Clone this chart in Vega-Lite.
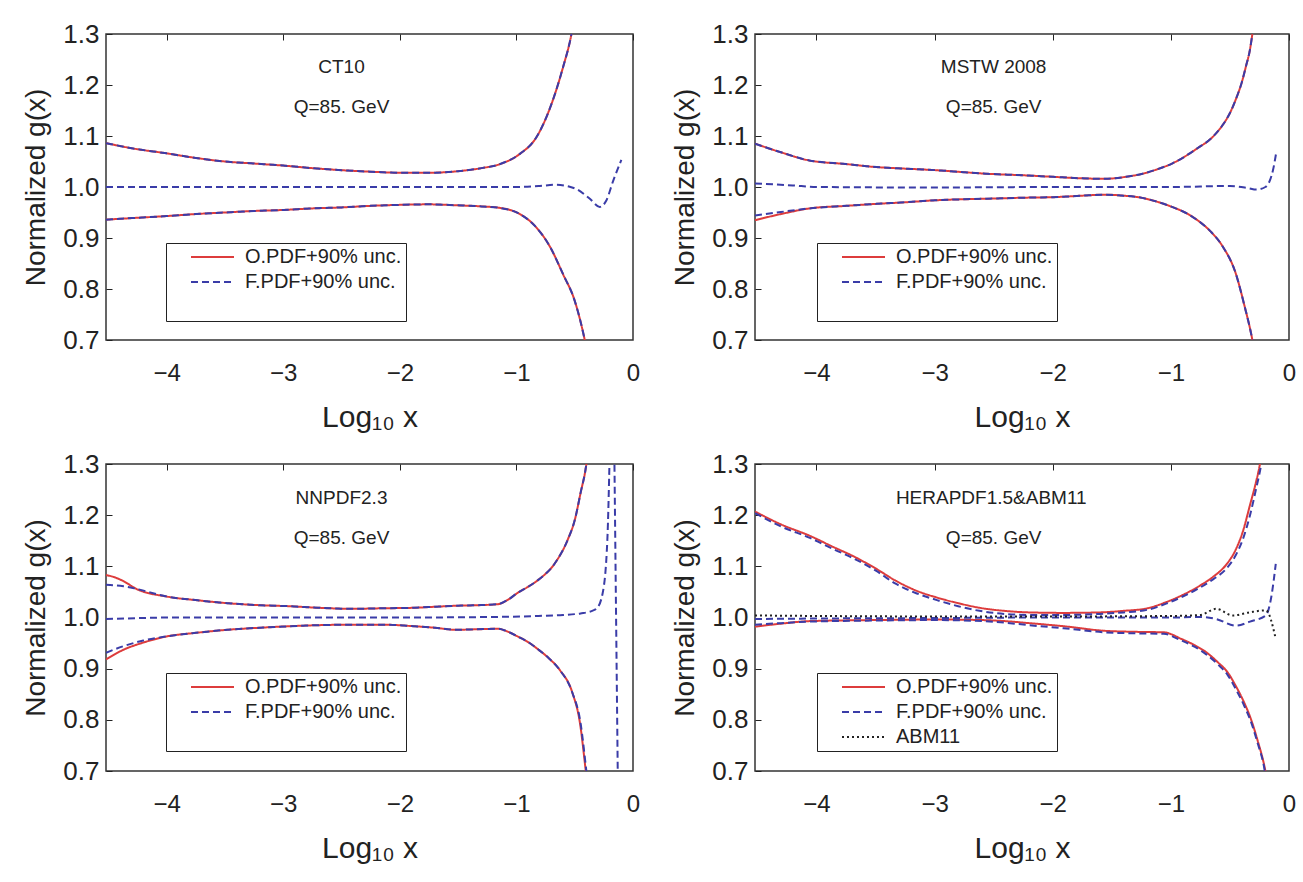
{
"$schema": "https://vega.github.io/schema/vega-lite/v6.json",
"background": "white",
"padding": {"left": 22, "top": 20, "right": 8, "bottom": 5},
"columns": 2,
"spacing": {"row": 17, "column": 30},
"config": {
 "font": "Liberation Sans",
 "view": {"stroke": "#333", "strokeWidth": 1.5},
 "axis": {"domain": false, "ticks": false, "grid": true, "gridColor": "#222", "gridWidth": 1, "gridOpacity": 1, "labelColor": "#222", "titleColor": "#222", "titleFontWeight": "normal", "labelFont": "Liberation Sans", "titleFont": "Liberation Sans"},
 "text": {"font": "Liberation Sans", "fontSize": 19, "color": "#222"},
 "line": {"strokeWidth": 2, "interpolate": "monotone", "clip": true}
},
"resolve": {"scale": {"stroke": "independent", "strokeDash": "independent"}},
"datasets": {"curves": [
{"panel":"CT10","series":"O.PDF+90% unc.","curve":"up","x":-4.52,"y":1.086},
{"panel":"CT10","series":"O.PDF+90% unc.","curve":"up","x":-4.3,"y":1.076},
{"panel":"CT10","series":"O.PDF+90% unc.","curve":"up","x":-4.0,"y":1.066},
{"panel":"CT10","series":"O.PDF+90% unc.","curve":"up","x":-3.75,"y":1.057},
{"panel":"CT10","series":"O.PDF+90% unc.","curve":"up","x":-3.5,"y":1.050},
{"panel":"CT10","series":"O.PDF+90% unc.","curve":"up","x":-3.25,"y":1.046},
{"panel":"CT10","series":"O.PDF+90% unc.","curve":"up","x":-3.0,"y":1.042},
{"panel":"CT10","series":"O.PDF+90% unc.","curve":"up","x":-2.75,"y":1.037},
{"panel":"CT10","series":"O.PDF+90% unc.","curve":"up","x":-2.5,"y":1.033},
{"panel":"CT10","series":"O.PDF+90% unc.","curve":"up","x":-2.25,"y":1.030},
{"panel":"CT10","series":"O.PDF+90% unc.","curve":"up","x":-2.0,"y":1.028},
{"panel":"CT10","series":"O.PDF+90% unc.","curve":"up","x":-1.75,"y":1.028},
{"panel":"CT10","series":"O.PDF+90% unc.","curve":"up","x":-1.5,"y":1.031},
{"panel":"CT10","series":"O.PDF+90% unc.","curve":"up","x":-1.3,"y":1.037},
{"panel":"CT10","series":"O.PDF+90% unc.","curve":"up","x":-1.14,"y":1.045},
{"panel":"CT10","series":"O.PDF+90% unc.","curve":"up","x":-0.97,"y":1.065},
{"panel":"CT10","series":"O.PDF+90% unc.","curve":"up","x":-0.83,"y":1.097},
{"panel":"CT10","series":"O.PDF+90% unc.","curve":"up","x":-0.71,"y":1.156},
{"panel":"CT10","series":"O.PDF+90% unc.","curve":"up","x":-0.6,"y":1.235},
{"panel":"CT10","series":"O.PDF+90% unc.","curve":"up","x":-0.528,"y":1.3},
{"panel":"CT10","series":"O.PDF+90% unc.","curve":"up","x":-0.48,"y":1.37},
{"panel":"CT10","series":"F.PDF+90% unc.","curve":"up","x":-4.52,"y":1.086},
{"panel":"CT10","series":"F.PDF+90% unc.","curve":"up","x":-4.3,"y":1.076},
{"panel":"CT10","series":"F.PDF+90% unc.","curve":"up","x":-4.0,"y":1.066},
{"panel":"CT10","series":"F.PDF+90% unc.","curve":"up","x":-3.75,"y":1.057},
{"panel":"CT10","series":"F.PDF+90% unc.","curve":"up","x":-3.5,"y":1.050},
{"panel":"CT10","series":"F.PDF+90% unc.","curve":"up","x":-3.25,"y":1.046},
{"panel":"CT10","series":"F.PDF+90% unc.","curve":"up","x":-3.0,"y":1.042},
{"panel":"CT10","series":"F.PDF+90% unc.","curve":"up","x":-2.75,"y":1.037},
{"panel":"CT10","series":"F.PDF+90% unc.","curve":"up","x":-2.5,"y":1.033},
{"panel":"CT10","series":"F.PDF+90% unc.","curve":"up","x":-2.25,"y":1.030},
{"panel":"CT10","series":"F.PDF+90% unc.","curve":"up","x":-2.0,"y":1.028},
{"panel":"CT10","series":"F.PDF+90% unc.","curve":"up","x":-1.75,"y":1.028},
{"panel":"CT10","series":"F.PDF+90% unc.","curve":"up","x":-1.5,"y":1.031},
{"panel":"CT10","series":"F.PDF+90% unc.","curve":"up","x":-1.3,"y":1.037},
{"panel":"CT10","series":"F.PDF+90% unc.","curve":"up","x":-1.14,"y":1.045},
{"panel":"CT10","series":"F.PDF+90% unc.","curve":"up","x":-0.97,"y":1.065},
{"panel":"CT10","series":"F.PDF+90% unc.","curve":"up","x":-0.83,"y":1.097},
{"panel":"CT10","series":"F.PDF+90% unc.","curve":"up","x":-0.71,"y":1.156},
{"panel":"CT10","series":"F.PDF+90% unc.","curve":"up","x":-0.6,"y":1.235},
{"panel":"CT10","series":"F.PDF+90% unc.","curve":"up","x":-0.528,"y":1.3},
{"panel":"CT10","series":"F.PDF+90% unc.","curve":"up","x":-0.48,"y":1.37},
{"panel":"CT10","series":"O.PDF+90% unc.","curve":"lo","x":-4.52,"y":0.936},
{"panel":"CT10","series":"O.PDF+90% unc.","curve":"lo","x":-4.3,"y":0.939},
{"panel":"CT10","series":"O.PDF+90% unc.","curve":"lo","x":-4.0,"y":0.943},
{"panel":"CT10","series":"O.PDF+90% unc.","curve":"lo","x":-3.75,"y":0.947},
{"panel":"CT10","series":"O.PDF+90% unc.","curve":"lo","x":-3.5,"y":0.950},
{"panel":"CT10","series":"O.PDF+90% unc.","curve":"lo","x":-3.25,"y":0.953},
{"panel":"CT10","series":"O.PDF+90% unc.","curve":"lo","x":-3.0,"y":0.955},
{"panel":"CT10","series":"O.PDF+90% unc.","curve":"lo","x":-2.75,"y":0.958},
{"panel":"CT10","series":"O.PDF+90% unc.","curve":"lo","x":-2.5,"y":0.960},
{"panel":"CT10","series":"O.PDF+90% unc.","curve":"lo","x":-2.25,"y":0.963},
{"panel":"CT10","series":"O.PDF+90% unc.","curve":"lo","x":-2.0,"y":0.965},
{"panel":"CT10","series":"O.PDF+90% unc.","curve":"lo","x":-1.75,"y":0.966},
{"panel":"CT10","series":"O.PDF+90% unc.","curve":"lo","x":-1.5,"y":0.964},
{"panel":"CT10","series":"O.PDF+90% unc.","curve":"lo","x":-1.3,"y":0.962},
{"panel":"CT10","series":"O.PDF+90% unc.","curve":"lo","x":-1.14,"y":0.959},
{"panel":"CT10","series":"O.PDF+90% unc.","curve":"lo","x":-0.97,"y":0.947},
{"panel":"CT10","series":"O.PDF+90% unc.","curve":"lo","x":-0.83,"y":0.921},
{"panel":"CT10","series":"O.PDF+90% unc.","curve":"lo","x":-0.71,"y":0.882},
{"panel":"CT10","series":"O.PDF+90% unc.","curve":"lo","x":-0.6,"y":0.829},
{"panel":"CT10","series":"O.PDF+90% unc.","curve":"lo","x":-0.5,"y":0.777},
{"panel":"CT10","series":"O.PDF+90% unc.","curve":"lo","x":-0.414,"y":0.7},
{"panel":"CT10","series":"O.PDF+90% unc.","curve":"lo","x":-0.38,"y":0.66},
{"panel":"CT10","series":"F.PDF+90% unc.","curve":"lo","x":-4.52,"y":0.936},
{"panel":"CT10","series":"F.PDF+90% unc.","curve":"lo","x":-4.3,"y":0.939},
{"panel":"CT10","series":"F.PDF+90% unc.","curve":"lo","x":-4.0,"y":0.943},
{"panel":"CT10","series":"F.PDF+90% unc.","curve":"lo","x":-3.75,"y":0.947},
{"panel":"CT10","series":"F.PDF+90% unc.","curve":"lo","x":-3.5,"y":0.950},
{"panel":"CT10","series":"F.PDF+90% unc.","curve":"lo","x":-3.25,"y":0.953},
{"panel":"CT10","series":"F.PDF+90% unc.","curve":"lo","x":-3.0,"y":0.955},
{"panel":"CT10","series":"F.PDF+90% unc.","curve":"lo","x":-2.75,"y":0.958},
{"panel":"CT10","series":"F.PDF+90% unc.","curve":"lo","x":-2.5,"y":0.960},
{"panel":"CT10","series":"F.PDF+90% unc.","curve":"lo","x":-2.25,"y":0.963},
{"panel":"CT10","series":"F.PDF+90% unc.","curve":"lo","x":-2.0,"y":0.965},
{"panel":"CT10","series":"F.PDF+90% unc.","curve":"lo","x":-1.75,"y":0.966},
{"panel":"CT10","series":"F.PDF+90% unc.","curve":"lo","x":-1.5,"y":0.964},
{"panel":"CT10","series":"F.PDF+90% unc.","curve":"lo","x":-1.3,"y":0.962},
{"panel":"CT10","series":"F.PDF+90% unc.","curve":"lo","x":-1.14,"y":0.959},
{"panel":"CT10","series":"F.PDF+90% unc.","curve":"lo","x":-0.97,"y":0.947},
{"panel":"CT10","series":"F.PDF+90% unc.","curve":"lo","x":-0.83,"y":0.921},
{"panel":"CT10","series":"F.PDF+90% unc.","curve":"lo","x":-0.71,"y":0.882},
{"panel":"CT10","series":"F.PDF+90% unc.","curve":"lo","x":-0.6,"y":0.829},
{"panel":"CT10","series":"F.PDF+90% unc.","curve":"lo","x":-0.5,"y":0.777},
{"panel":"CT10","series":"F.PDF+90% unc.","curve":"lo","x":-0.414,"y":0.7},
{"panel":"CT10","series":"F.PDF+90% unc.","curve":"lo","x":-0.38,"y":0.66},
{"panel":"CT10","series":"F.PDF+90% unc.","curve":"c","x":-4.52,"y":1.0},
{"panel":"CT10","series":"F.PDF+90% unc.","curve":"c","x":-3.0,"y":1.0},
{"panel":"CT10","series":"F.PDF+90% unc.","curve":"c","x":-2.0,"y":1.0},
{"panel":"CT10","series":"F.PDF+90% unc.","curve":"c","x":-1.0,"y":1.0},
{"panel":"CT10","series":"F.PDF+90% unc.","curve":"c","x":-0.8,"y":1.002},
{"panel":"CT10","series":"F.PDF+90% unc.","curve":"c","x":-0.66,"y":1.0045},
{"panel":"CT10","series":"F.PDF+90% unc.","curve":"c","x":-0.55,"y":1.001},
{"panel":"CT10","series":"F.PDF+90% unc.","curve":"c","x":-0.485,"y":0.996},
{"panel":"CT10","series":"F.PDF+90% unc.","curve":"c","x":-0.37,"y":0.977},
{"panel":"CT10","series":"F.PDF+90% unc.","curve":"c","x":-0.285,"y":0.961},
{"panel":"CT10","series":"F.PDF+90% unc.","curve":"c","x":-0.23,"y":0.973},
{"panel":"CT10","series":"F.PDF+90% unc.","curve":"c","x":-0.17,"y":1.012},
{"panel":"CT10","series":"F.PDF+90% unc.","curve":"c","x":-0.1,"y":1.053},

{"panel":"MSTW","series":"O.PDF+90% unc.","curve":"up","x":-4.52,"y":1.085},
{"panel":"MSTW","series":"O.PDF+90% unc.","curve":"up","x":-4.3,"y":1.068},
{"panel":"MSTW","series":"O.PDF+90% unc.","curve":"up","x":-4.06,"y":1.052},
{"panel":"MSTW","series":"O.PDF+90% unc.","curve":"up","x":-3.75,"y":1.045},
{"panel":"MSTW","series":"O.PDF+90% unc.","curve":"up","x":-3.49,"y":1.039},
{"panel":"MSTW","series":"O.PDF+90% unc.","curve":"up","x":-3.25,"y":1.036},
{"panel":"MSTW","series":"O.PDF+90% unc.","curve":"up","x":-2.99,"y":1.033},
{"panel":"MSTW","series":"O.PDF+90% unc.","curve":"up","x":-2.75,"y":1.029},
{"panel":"MSTW","series":"O.PDF+90% unc.","curve":"up","x":-2.56,"y":1.026},
{"panel":"MSTW","series":"O.PDF+90% unc.","curve":"up","x":-2.25,"y":1.023},
{"panel":"MSTW","series":"O.PDF+90% unc.","curve":"up","x":-2.0,"y":1.020},
{"panel":"MSTW","series":"O.PDF+90% unc.","curve":"up","x":-1.75,"y":1.017},
{"panel":"MSTW","series":"O.PDF+90% unc.","curve":"up","x":-1.56,"y":1.016},
{"panel":"MSTW","series":"O.PDF+90% unc.","curve":"up","x":-1.38,"y":1.020},
{"panel":"MSTW","series":"O.PDF+90% unc.","curve":"up","x":-1.24,"y":1.026},
{"panel":"MSTW","series":"O.PDF+90% unc.","curve":"up","x":-1.1,"y":1.036},
{"panel":"MSTW","series":"O.PDF+90% unc.","curve":"up","x":-0.99,"y":1.046},
{"panel":"MSTW","series":"O.PDF+90% unc.","curve":"up","x":-0.88,"y":1.060},
{"panel":"MSTW","series":"O.PDF+90% unc.","curve":"up","x":-0.775,"y":1.076},
{"panel":"MSTW","series":"O.PDF+90% unc.","curve":"up","x":-0.66,"y":1.095},
{"panel":"MSTW","series":"O.PDF+90% unc.","curve":"up","x":-0.56,"y":1.122},
{"panel":"MSTW","series":"O.PDF+90% unc.","curve":"up","x":-0.5,"y":1.145},
{"panel":"MSTW","series":"O.PDF+90% unc.","curve":"up","x":-0.45,"y":1.172},
{"panel":"MSTW","series":"O.PDF+90% unc.","curve":"up","x":-0.4,"y":1.205},
{"panel":"MSTW","series":"O.PDF+90% unc.","curve":"up","x":-0.364,"y":1.237},
{"panel":"MSTW","series":"O.PDF+90% unc.","curve":"up","x":-0.33,"y":1.27},
{"panel":"MSTW","series":"O.PDF+90% unc.","curve":"up","x":-0.31,"y":1.3},
{"panel":"MSTW","series":"O.PDF+90% unc.","curve":"up","x":-0.28,"y":1.35},
{"panel":"MSTW","series":"F.PDF+90% unc.","curve":"up","x":-4.52,"y":1.085},
{"panel":"MSTW","series":"F.PDF+90% unc.","curve":"up","x":-4.3,"y":1.068},
{"panel":"MSTW","series":"F.PDF+90% unc.","curve":"up","x":-4.06,"y":1.052},
{"panel":"MSTW","series":"F.PDF+90% unc.","curve":"up","x":-3.75,"y":1.045},
{"panel":"MSTW","series":"F.PDF+90% unc.","curve":"up","x":-3.49,"y":1.039},
{"panel":"MSTW","series":"F.PDF+90% unc.","curve":"up","x":-3.25,"y":1.036},
{"panel":"MSTW","series":"F.PDF+90% unc.","curve":"up","x":-2.99,"y":1.033},
{"panel":"MSTW","series":"F.PDF+90% unc.","curve":"up","x":-2.75,"y":1.029},
{"panel":"MSTW","series":"F.PDF+90% unc.","curve":"up","x":-2.56,"y":1.026},
{"panel":"MSTW","series":"F.PDF+90% unc.","curve":"up","x":-2.25,"y":1.023},
{"panel":"MSTW","series":"F.PDF+90% unc.","curve":"up","x":-2.0,"y":1.020},
{"panel":"MSTW","series":"F.PDF+90% unc.","curve":"up","x":-1.75,"y":1.017},
{"panel":"MSTW","series":"F.PDF+90% unc.","curve":"up","x":-1.56,"y":1.016},
{"panel":"MSTW","series":"F.PDF+90% unc.","curve":"up","x":-1.38,"y":1.020},
{"panel":"MSTW","series":"F.PDF+90% unc.","curve":"up","x":-1.24,"y":1.026},
{"panel":"MSTW","series":"F.PDF+90% unc.","curve":"up","x":-1.1,"y":1.036},
{"panel":"MSTW","series":"F.PDF+90% unc.","curve":"up","x":-0.99,"y":1.046},
{"panel":"MSTW","series":"F.PDF+90% unc.","curve":"up","x":-0.88,"y":1.060},
{"panel":"MSTW","series":"F.PDF+90% unc.","curve":"up","x":-0.775,"y":1.076},
{"panel":"MSTW","series":"F.PDF+90% unc.","curve":"up","x":-0.66,"y":1.095},
{"panel":"MSTW","series":"F.PDF+90% unc.","curve":"up","x":-0.56,"y":1.122},
{"panel":"MSTW","series":"F.PDF+90% unc.","curve":"up","x":-0.5,"y":1.145},
{"panel":"MSTW","series":"F.PDF+90% unc.","curve":"up","x":-0.45,"y":1.172},
{"panel":"MSTW","series":"F.PDF+90% unc.","curve":"up","x":-0.4,"y":1.205},
{"panel":"MSTW","series":"F.PDF+90% unc.","curve":"up","x":-0.364,"y":1.237},
{"panel":"MSTW","series":"F.PDF+90% unc.","curve":"up","x":-0.33,"y":1.27},
{"panel":"MSTW","series":"F.PDF+90% unc.","curve":"up","x":-0.31,"y":1.3},
{"panel":"MSTW","series":"F.PDF+90% unc.","curve":"up","x":-0.28,"y":1.35},
{"panel":"MSTW","series":"O.PDF+90% unc.","curve":"lo","x":-4.52,"y":0.935},
{"panel":"MSTW","series":"O.PDF+90% unc.","curve":"lo","x":-4.3,"y":0.947},
{"panel":"MSTW","series":"O.PDF+90% unc.","curve":"lo","x":-4.06,"y":0.958},
{"panel":"MSTW","series":"O.PDF+90% unc.","curve":"lo","x":-3.75,"y":0.963},
{"panel":"MSTW","series":"O.PDF+90% unc.","curve":"lo","x":-3.49,"y":0.967},
{"panel":"MSTW","series":"O.PDF+90% unc.","curve":"lo","x":-3.25,"y":0.970},
{"panel":"MSTW","series":"O.PDF+90% unc.","curve":"lo","x":-2.99,"y":0.974},
{"panel":"MSTW","series":"O.PDF+90% unc.","curve":"lo","x":-2.75,"y":0.976},
{"panel":"MSTW","series":"O.PDF+90% unc.","curve":"lo","x":-2.56,"y":0.977},
{"panel":"MSTW","series":"O.PDF+90% unc.","curve":"lo","x":-2.25,"y":0.979},
{"panel":"MSTW","series":"O.PDF+90% unc.","curve":"lo","x":-2.0,"y":0.980},
{"panel":"MSTW","series":"O.PDF+90% unc.","curve":"lo","x":-1.75,"y":0.983},
{"panel":"MSTW","series":"O.PDF+90% unc.","curve":"lo","x":-1.56,"y":0.985},
{"panel":"MSTW","series":"O.PDF+90% unc.","curve":"lo","x":-1.4,"y":0.983},
{"panel":"MSTW","series":"O.PDF+90% unc.","curve":"lo","x":-1.275,"y":0.980},
{"panel":"MSTW","series":"O.PDF+90% unc.","curve":"lo","x":-1.1,"y":0.970},
{"panel":"MSTW","series":"O.PDF+90% unc.","curve":"lo","x":-0.99,"y":0.961},
{"panel":"MSTW","series":"O.PDF+90% unc.","curve":"lo","x":-0.88,"y":0.950},
{"panel":"MSTW","series":"O.PDF+90% unc.","curve":"lo","x":-0.775,"y":0.935},
{"panel":"MSTW","series":"O.PDF+90% unc.","curve":"lo","x":-0.66,"y":0.912},
{"panel":"MSTW","series":"O.PDF+90% unc.","curve":"lo","x":-0.56,"y":0.883},
{"panel":"MSTW","series":"O.PDF+90% unc.","curve":"lo","x":-0.45,"y":0.830},
{"panel":"MSTW","series":"O.PDF+90% unc.","curve":"lo","x":-0.38,"y":0.77},
{"panel":"MSTW","series":"O.PDF+90% unc.","curve":"lo","x":-0.31,"y":0.7},
{"panel":"MSTW","series":"O.PDF+90% unc.","curve":"lo","x":-0.28,"y":0.66},
{"panel":"MSTW","series":"F.PDF+90% unc.","curve":"lo","x":-4.52,"y":0.944},
{"panel":"MSTW","series":"F.PDF+90% unc.","curve":"lo","x":-4.3,"y":0.951},
{"panel":"MSTW","series":"F.PDF+90% unc.","curve":"lo","x":-4.06,"y":0.958},
{"panel":"MSTW","series":"F.PDF+90% unc.","curve":"lo","x":-3.75,"y":0.963},
{"panel":"MSTW","series":"F.PDF+90% unc.","curve":"lo","x":-3.49,"y":0.967},
{"panel":"MSTW","series":"F.PDF+90% unc.","curve":"lo","x":-3.25,"y":0.970},
{"panel":"MSTW","series":"F.PDF+90% unc.","curve":"lo","x":-2.99,"y":0.974},
{"panel":"MSTW","series":"F.PDF+90% unc.","curve":"lo","x":-2.75,"y":0.976},
{"panel":"MSTW","series":"F.PDF+90% unc.","curve":"lo","x":-2.56,"y":0.977},
{"panel":"MSTW","series":"F.PDF+90% unc.","curve":"lo","x":-2.25,"y":0.979},
{"panel":"MSTW","series":"F.PDF+90% unc.","curve":"lo","x":-2.0,"y":0.980},
{"panel":"MSTW","series":"F.PDF+90% unc.","curve":"lo","x":-1.75,"y":0.983},
{"panel":"MSTW","series":"F.PDF+90% unc.","curve":"lo","x":-1.56,"y":0.985},
{"panel":"MSTW","series":"F.PDF+90% unc.","curve":"lo","x":-1.4,"y":0.983},
{"panel":"MSTW","series":"F.PDF+90% unc.","curve":"lo","x":-1.275,"y":0.980},
{"panel":"MSTW","series":"F.PDF+90% unc.","curve":"lo","x":-1.1,"y":0.970},
{"panel":"MSTW","series":"F.PDF+90% unc.","curve":"lo","x":-0.99,"y":0.961},
{"panel":"MSTW","series":"F.PDF+90% unc.","curve":"lo","x":-0.88,"y":0.950},
{"panel":"MSTW","series":"F.PDF+90% unc.","curve":"lo","x":-0.775,"y":0.935},
{"panel":"MSTW","series":"F.PDF+90% unc.","curve":"lo","x":-0.66,"y":0.912},
{"panel":"MSTW","series":"F.PDF+90% unc.","curve":"lo","x":-0.56,"y":0.883},
{"panel":"MSTW","series":"F.PDF+90% unc.","curve":"lo","x":-0.45,"y":0.830},
{"panel":"MSTW","series":"F.PDF+90% unc.","curve":"lo","x":-0.38,"y":0.77},
{"panel":"MSTW","series":"F.PDF+90% unc.","curve":"lo","x":-0.31,"y":0.7},
{"panel":"MSTW","series":"F.PDF+90% unc.","curve":"lo","x":-0.28,"y":0.66},
{"panel":"MSTW","series":"F.PDF+90% unc.","curve":"c","x":-4.52,"y":1.007},
{"panel":"MSTW","series":"F.PDF+90% unc.","curve":"c","x":-4.2,"y":1.003},
{"panel":"MSTW","series":"F.PDF+90% unc.","curve":"c","x":-4.0,"y":1.0},
{"panel":"MSTW","series":"F.PDF+90% unc.","curve":"c","x":-3.0,"y":0.999},
{"panel":"MSTW","series":"F.PDF+90% unc.","curve":"c","x":-2.0,"y":1.0},
{"panel":"MSTW","series":"F.PDF+90% unc.","curve":"c","x":-1.0,"y":1.0},
{"panel":"MSTW","series":"F.PDF+90% unc.","curve":"c","x":-0.5,"y":1.002},
{"panel":"MSTW","series":"F.PDF+90% unc.","curve":"c","x":-0.35,"y":0.998},
{"panel":"MSTW","series":"F.PDF+90% unc.","curve":"c","x":-0.275,"y":0.995},
{"panel":"MSTW","series":"F.PDF+90% unc.","curve":"c","x":-0.2,"y":1.0},
{"panel":"MSTW","series":"F.PDF+90% unc.","curve":"c","x":-0.13,"y":1.039},
{"panel":"MSTW","series":"F.PDF+90% unc.","curve":"c","x":-0.11,"y":1.065},

{"panel":"NNPDF","series":"O.PDF+90% unc.","curve":"up","x":-4.52,"y":1.083},
{"panel":"NNPDF","series":"O.PDF+90% unc.","curve":"up","x":-4.45,"y":1.079},
{"panel":"NNPDF","series":"O.PDF+90% unc.","curve":"up","x":-4.37,"y":1.071},
{"panel":"NNPDF","series":"O.PDF+90% unc.","curve":"up","x":-4.26,"y":1.056},
{"panel":"NNPDF","series":"O.PDF+90% unc.","curve":"up","x":-4.0,"y":1.041},
{"panel":"NNPDF","series":"O.PDF+90% unc.","curve":"up","x":-3.75,"y":1.034},
{"panel":"NNPDF","series":"O.PDF+90% unc.","curve":"up","x":-3.48,"y":1.028},
{"panel":"NNPDF","series":"O.PDF+90% unc.","curve":"up","x":-3.2,"y":1.024},
{"panel":"NNPDF","series":"O.PDF+90% unc.","curve":"up","x":-2.94,"y":1.022},
{"panel":"NNPDF","series":"O.PDF+90% unc.","curve":"up","x":-2.7,"y":1.019},
{"panel":"NNPDF","series":"O.PDF+90% unc.","curve":"up","x":-2.41,"y":1.017},
{"panel":"NNPDF","series":"O.PDF+90% unc.","curve":"up","x":-2.15,"y":1.018},
{"panel":"NNPDF","series":"O.PDF+90% unc.","curve":"up","x":-1.88,"y":1.019},
{"panel":"NNPDF","series":"O.PDF+90% unc.","curve":"up","x":-1.7,"y":1.021},
{"panel":"NNPDF","series":"O.PDF+90% unc.","curve":"up","x":-1.52,"y":1.023},
{"panel":"NNPDF","series":"O.PDF+90% unc.","curve":"up","x":-1.34,"y":1.024},
{"panel":"NNPDF","series":"O.PDF+90% unc.","curve":"up","x":-1.16,"y":1.026},
{"panel":"NNPDF","series":"O.PDF+90% unc.","curve":"up","x":-1.07,"y":1.035},
{"panel":"NNPDF","series":"O.PDF+90% unc.","curve":"up","x":-0.99,"y":1.048},
{"panel":"NNPDF","series":"O.PDF+90% unc.","curve":"up","x":-0.9,"y":1.06},
{"panel":"NNPDF","series":"O.PDF+90% unc.","curve":"up","x":-0.81,"y":1.074},
{"panel":"NNPDF","series":"O.PDF+90% unc.","curve":"up","x":-0.67,"y":1.106},
{"panel":"NNPDF","series":"O.PDF+90% unc.","curve":"up","x":-0.56,"y":1.152},
{"panel":"NNPDF","series":"O.PDF+90% unc.","curve":"up","x":-0.5,"y":1.19},
{"panel":"NNPDF","series":"O.PDF+90% unc.","curve":"up","x":-0.45,"y":1.243},
{"panel":"NNPDF","series":"O.PDF+90% unc.","curve":"up","x":-0.4,"y":1.3},
{"panel":"NNPDF","series":"O.PDF+90% unc.","curve":"up","x":-0.37,"y":1.36},
{"panel":"NNPDF","series":"F.PDF+90% unc.","curve":"up","x":-4.52,"y":1.064},
{"panel":"NNPDF","series":"F.PDF+90% unc.","curve":"up","x":-4.37,"y":1.061},
{"panel":"NNPDF","series":"F.PDF+90% unc.","curve":"up","x":-4.26,"y":1.056},
{"panel":"NNPDF","series":"F.PDF+90% unc.","curve":"up","x":-4.0,"y":1.041},
{"panel":"NNPDF","series":"F.PDF+90% unc.","curve":"up","x":-3.75,"y":1.034},
{"panel":"NNPDF","series":"F.PDF+90% unc.","curve":"up","x":-3.48,"y":1.028},
{"panel":"NNPDF","series":"F.PDF+90% unc.","curve":"up","x":-3.2,"y":1.024},
{"panel":"NNPDF","series":"F.PDF+90% unc.","curve":"up","x":-2.94,"y":1.022},
{"panel":"NNPDF","series":"F.PDF+90% unc.","curve":"up","x":-2.7,"y":1.019},
{"panel":"NNPDF","series":"F.PDF+90% unc.","curve":"up","x":-2.41,"y":1.017},
{"panel":"NNPDF","series":"F.PDF+90% unc.","curve":"up","x":-2.15,"y":1.018},
{"panel":"NNPDF","series":"F.PDF+90% unc.","curve":"up","x":-1.88,"y":1.019},
{"panel":"NNPDF","series":"F.PDF+90% unc.","curve":"up","x":-1.7,"y":1.021},
{"panel":"NNPDF","series":"F.PDF+90% unc.","curve":"up","x":-1.52,"y":1.023},
{"panel":"NNPDF","series":"F.PDF+90% unc.","curve":"up","x":-1.34,"y":1.024},
{"panel":"NNPDF","series":"F.PDF+90% unc.","curve":"up","x":-1.16,"y":1.026},
{"panel":"NNPDF","series":"F.PDF+90% unc.","curve":"up","x":-1.07,"y":1.035},
{"panel":"NNPDF","series":"F.PDF+90% unc.","curve":"up","x":-0.99,"y":1.048},
{"panel":"NNPDF","series":"F.PDF+90% unc.","curve":"up","x":-0.9,"y":1.06},
{"panel":"NNPDF","series":"F.PDF+90% unc.","curve":"up","x":-0.81,"y":1.074},
{"panel":"NNPDF","series":"F.PDF+90% unc.","curve":"up","x":-0.67,"y":1.106},
{"panel":"NNPDF","series":"F.PDF+90% unc.","curve":"up","x":-0.56,"y":1.152},
{"panel":"NNPDF","series":"F.PDF+90% unc.","curve":"up","x":-0.5,"y":1.19},
{"panel":"NNPDF","series":"F.PDF+90% unc.","curve":"up","x":-0.45,"y":1.243},
{"panel":"NNPDF","series":"F.PDF+90% unc.","curve":"up","x":-0.4,"y":1.3},
{"panel":"NNPDF","series":"F.PDF+90% unc.","curve":"up","x":-0.37,"y":1.36},
{"panel":"NNPDF","series":"O.PDF+90% unc.","curve":"lo","x":-4.52,"y":0.918},
{"panel":"NNPDF","series":"O.PDF+90% unc.","curve":"lo","x":-4.37,"y":0.937},
{"panel":"NNPDF","series":"O.PDF+90% unc.","curve":"lo","x":-4.2,"y":0.951},
{"panel":"NNPDF","series":"O.PDF+90% unc.","curve":"lo","x":-4.0,"y":0.963},
{"panel":"NNPDF","series":"O.PDF+90% unc.","curve":"lo","x":-3.75,"y":0.970},
{"panel":"NNPDF","series":"O.PDF+90% unc.","curve":"lo","x":-3.48,"y":0.976},
{"panel":"NNPDF","series":"O.PDF+90% unc.","curve":"lo","x":-3.2,"y":0.980},
{"panel":"NNPDF","series":"O.PDF+90% unc.","curve":"lo","x":-2.94,"y":0.983},
{"panel":"NNPDF","series":"O.PDF+90% unc.","curve":"lo","x":-2.7,"y":0.985},
{"panel":"NNPDF","series":"O.PDF+90% unc.","curve":"lo","x":-2.41,"y":0.986},
{"panel":"NNPDF","series":"O.PDF+90% unc.","curve":"lo","x":-2.15,"y":0.986},
{"panel":"NNPDF","series":"O.PDF+90% unc.","curve":"lo","x":-1.88,"y":0.983},
{"panel":"NNPDF","series":"O.PDF+90% unc.","curve":"lo","x":-1.7,"y":0.980},
{"panel":"NNPDF","series":"O.PDF+90% unc.","curve":"lo","x":-1.52,"y":0.976},
{"panel":"NNPDF","series":"O.PDF+90% unc.","curve":"lo","x":-1.34,"y":0.977},
{"panel":"NNPDF","series":"O.PDF+90% unc.","curve":"lo","x":-1.16,"y":0.978},
{"panel":"NNPDF","series":"O.PDF+90% unc.","curve":"lo","x":-1.07,"y":0.972},
{"panel":"NNPDF","series":"O.PDF+90% unc.","curve":"lo","x":-0.99,"y":0.963},
{"panel":"NNPDF","series":"O.PDF+90% unc.","curve":"lo","x":-0.9,"y":0.952},
{"panel":"NNPDF","series":"O.PDF+90% unc.","curve":"lo","x":-0.81,"y":0.937},
{"panel":"NNPDF","series":"O.PDF+90% unc.","curve":"lo","x":-0.72,"y":0.92},
{"panel":"NNPDF","series":"O.PDF+90% unc.","curve":"lo","x":-0.63,"y":0.898},
{"panel":"NNPDF","series":"O.PDF+90% unc.","curve":"lo","x":-0.52,"y":0.853},
{"panel":"NNPDF","series":"O.PDF+90% unc.","curve":"lo","x":-0.455,"y":0.794},
{"panel":"NNPDF","series":"O.PDF+90% unc.","curve":"lo","x":-0.405,"y":0.7},
{"panel":"NNPDF","series":"O.PDF+90% unc.","curve":"lo","x":-0.375,"y":0.64},
{"panel":"NNPDF","series":"F.PDF+90% unc.","curve":"lo","x":-4.52,"y":0.931},
{"panel":"NNPDF","series":"F.PDF+90% unc.","curve":"lo","x":-4.37,"y":0.944},
{"panel":"NNPDF","series":"F.PDF+90% unc.","curve":"lo","x":-4.2,"y":0.955},
{"panel":"NNPDF","series":"F.PDF+90% unc.","curve":"lo","x":-4.0,"y":0.963},
{"panel":"NNPDF","series":"F.PDF+90% unc.","curve":"lo","x":-3.75,"y":0.970},
{"panel":"NNPDF","series":"F.PDF+90% unc.","curve":"lo","x":-3.48,"y":0.976},
{"panel":"NNPDF","series":"F.PDF+90% unc.","curve":"lo","x":-3.2,"y":0.980},
{"panel":"NNPDF","series":"F.PDF+90% unc.","curve":"lo","x":-2.94,"y":0.983},
{"panel":"NNPDF","series":"F.PDF+90% unc.","curve":"lo","x":-2.7,"y":0.985},
{"panel":"NNPDF","series":"F.PDF+90% unc.","curve":"lo","x":-2.41,"y":0.986},
{"panel":"NNPDF","series":"F.PDF+90% unc.","curve":"lo","x":-2.15,"y":0.986},
{"panel":"NNPDF","series":"F.PDF+90% unc.","curve":"lo","x":-1.88,"y":0.983},
{"panel":"NNPDF","series":"F.PDF+90% unc.","curve":"lo","x":-1.7,"y":0.980},
{"panel":"NNPDF","series":"F.PDF+90% unc.","curve":"lo","x":-1.52,"y":0.976},
{"panel":"NNPDF","series":"F.PDF+90% unc.","curve":"lo","x":-1.34,"y":0.977},
{"panel":"NNPDF","series":"F.PDF+90% unc.","curve":"lo","x":-1.16,"y":0.978},
{"panel":"NNPDF","series":"F.PDF+90% unc.","curve":"lo","x":-1.07,"y":0.972},
{"panel":"NNPDF","series":"F.PDF+90% unc.","curve":"lo","x":-0.99,"y":0.963},
{"panel":"NNPDF","series":"F.PDF+90% unc.","curve":"lo","x":-0.9,"y":0.952},
{"panel":"NNPDF","series":"F.PDF+90% unc.","curve":"lo","x":-0.81,"y":0.937},
{"panel":"NNPDF","series":"F.PDF+90% unc.","curve":"lo","x":-0.72,"y":0.92},
{"panel":"NNPDF","series":"F.PDF+90% unc.","curve":"lo","x":-0.63,"y":0.898},
{"panel":"NNPDF","series":"F.PDF+90% unc.","curve":"lo","x":-0.52,"y":0.853},
{"panel":"NNPDF","series":"F.PDF+90% unc.","curve":"lo","x":-0.45,"y":0.794},
{"panel":"NNPDF","series":"F.PDF+90% unc.","curve":"lo","x":-0.4,"y":0.7},
{"panel":"NNPDF","series":"F.PDF+90% unc.","curve":"lo","x":-0.37,"y":0.64},
{"panel":"NNPDF","series":"F.PDF+90% unc.","curve":"c","x":-4.52,"y":0.997},
{"panel":"NNPDF","series":"F.PDF+90% unc.","curve":"c","x":-4.2,"y":0.999},
{"panel":"NNPDF","series":"F.PDF+90% unc.","curve":"c","x":-4.0,"y":1.0},
{"panel":"NNPDF","series":"F.PDF+90% unc.","curve":"c","x":-3.0,"y":1.0},
{"panel":"NNPDF","series":"F.PDF+90% unc.","curve":"c","x":-2.0,"y":1.0},
{"panel":"NNPDF","series":"F.PDF+90% unc.","curve":"c","x":-1.2,"y":1.001},
{"panel":"NNPDF","series":"F.PDF+90% unc.","curve":"c","x":-0.81,"y":1.003},
{"panel":"NNPDF","series":"F.PDF+90% unc.","curve":"c","x":-0.6,"y":1.005},
{"panel":"NNPDF","series":"F.PDF+90% unc.","curve":"c","x":-0.45,"y":1.008},
{"panel":"NNPDF","series":"F.PDF+90% unc.","curve":"c","x":-0.35,"y":1.013},
{"panel":"NNPDF","series":"F.PDF+90% unc.","curve":"c","x":-0.31,"y":1.018},
{"panel":"NNPDF","series":"F.PDF+90% unc.","curve":"c","x":-0.26,"y":1.048},
{"panel":"NNPDF","series":"F.PDF+90% unc.","curve":"c","x":-0.22,"y":1.152},
{"panel":"NNPDF","series":"F.PDF+90% unc.","curve":"c","x":-0.2,"y":1.32},
{"panel":"NNPDF","series":"F.PDF+90% unc.","curve":"v","x":-0.16,"y":1.32},
{"panel":"NNPDF","series":"F.PDF+90% unc.","curve":"v","x":-0.145,"y":1.0},
{"panel":"NNPDF","series":"F.PDF+90% unc.","curve":"v","x":-0.13,"y":0.68},

{"panel":"HERA","series":"O.PDF+90% unc.","curve":"up","x":-4.52,"y":1.207},
{"panel":"HERA","series":"O.PDF+90% unc.","curve":"up","x":-4.3,"y":1.182},
{"panel":"HERA","series":"O.PDF+90% unc.","curve":"up","x":-4.05,"y":1.159},
{"panel":"HERA","series":"O.PDF+90% unc.","curve":"up","x":-3.85,"y":1.137},
{"panel":"HERA","series":"O.PDF+90% unc.","curve":"up","x":-3.69,"y":1.120},
{"panel":"HERA","series":"O.PDF+90% unc.","curve":"up","x":-3.5,"y":1.096},
{"panel":"HERA","series":"O.PDF+90% unc.","curve":"up","x":-3.33,"y":1.072},
{"panel":"HERA","series":"O.PDF+90% unc.","curve":"up","x":-3.15,"y":1.052},
{"panel":"HERA","series":"O.PDF+90% unc.","curve":"up","x":-2.98,"y":1.039},
{"panel":"HERA","series":"O.PDF+90% unc.","curve":"up","x":-2.8,"y":1.028},
{"panel":"HERA","series":"O.PDF+90% unc.","curve":"up","x":-2.62,"y":1.019},
{"panel":"HERA","series":"O.PDF+90% unc.","curve":"up","x":-2.41,"y":1.013},
{"panel":"HERA","series":"O.PDF+90% unc.","curve":"up","x":-2.2,"y":1.010},
{"panel":"HERA","series":"O.PDF+90% unc.","curve":"up","x":-1.91,"y":1.009},
{"panel":"HERA","series":"O.PDF+90% unc.","curve":"up","x":-1.6,"y":1.010},
{"panel":"HERA","series":"O.PDF+90% unc.","curve":"up","x":-1.4,"y":1.013},
{"panel":"HERA","series":"O.PDF+90% unc.","curve":"up","x":-1.2,"y":1.018},
{"panel":"HERA","series":"O.PDF+90% unc.","curve":"up","x":-1.04,"y":1.030},
{"panel":"HERA","series":"O.PDF+90% unc.","curve":"up","x":-0.9,"y":1.044},
{"panel":"HERA","series":"O.PDF+90% unc.","curve":"up","x":-0.756,"y":1.062},
{"panel":"HERA","series":"O.PDF+90% unc.","curve":"up","x":-0.64,"y":1.080},
{"panel":"HERA","series":"O.PDF+90% unc.","curve":"up","x":-0.532,"y":1.103},
{"panel":"HERA","series":"O.PDF+90% unc.","curve":"up","x":-0.45,"y":1.133},
{"panel":"HERA","series":"O.PDF+90% unc.","curve":"up","x":-0.392,"y":1.167},
{"panel":"HERA","series":"O.PDF+90% unc.","curve":"up","x":-0.33,"y":1.22},
{"panel":"HERA","series":"O.PDF+90% unc.","curve":"up","x":-0.28,"y":1.264},
{"panel":"HERA","series":"O.PDF+90% unc.","curve":"up","x":-0.246,"y":1.3},
{"panel":"HERA","series":"O.PDF+90% unc.","curve":"up","x":-0.22,"y":1.34},
{"panel":"HERA","series":"F.PDF+90% unc.","curve":"up","x":-4.52,"y":1.204},
{"panel":"HERA","series":"F.PDF+90% unc.","curve":"up","x":-4.3,"y":1.178},
{"panel":"HERA","series":"F.PDF+90% unc.","curve":"up","x":-4.05,"y":1.155},
{"panel":"HERA","series":"F.PDF+90% unc.","curve":"up","x":-3.85,"y":1.133},
{"panel":"HERA","series":"F.PDF+90% unc.","curve":"up","x":-3.69,"y":1.116},
{"panel":"HERA","series":"F.PDF+90% unc.","curve":"up","x":-3.5,"y":1.092},
{"panel":"HERA","series":"F.PDF+90% unc.","curve":"up","x":-3.33,"y":1.066},
{"panel":"HERA","series":"F.PDF+90% unc.","curve":"up","x":-3.15,"y":1.047},
{"panel":"HERA","series":"F.PDF+90% unc.","curve":"up","x":-2.98,"y":1.034},
{"panel":"HERA","series":"F.PDF+90% unc.","curve":"up","x":-2.8,"y":1.022},
{"panel":"HERA","series":"F.PDF+90% unc.","curve":"up","x":-2.62,"y":1.013},
{"panel":"HERA","series":"F.PDF+90% unc.","curve":"up","x":-2.41,"y":1.007},
{"panel":"HERA","series":"F.PDF+90% unc.","curve":"up","x":-2.2,"y":1.005},
{"panel":"HERA","series":"F.PDF+90% unc.","curve":"up","x":-1.91,"y":1.005},
{"panel":"HERA","series":"F.PDF+90% unc.","curve":"up","x":-1.6,"y":1.007},
{"panel":"HERA","series":"F.PDF+90% unc.","curve":"up","x":-1.4,"y":1.010},
{"panel":"HERA","series":"F.PDF+90% unc.","curve":"up","x":-1.2,"y":1.015},
{"panel":"HERA","series":"F.PDF+90% unc.","curve":"up","x":-1.04,"y":1.027},
{"panel":"HERA","series":"F.PDF+90% unc.","curve":"up","x":-0.9,"y":1.041},
{"panel":"HERA","series":"F.PDF+90% unc.","curve":"up","x":-0.756,"y":1.058},
{"panel":"HERA","series":"F.PDF+90% unc.","curve":"up","x":-0.64,"y":1.075},
{"panel":"HERA","series":"F.PDF+90% unc.","curve":"up","x":-0.532,"y":1.095},
{"panel":"HERA","series":"F.PDF+90% unc.","curve":"up","x":-0.45,"y":1.122},
{"panel":"HERA","series":"F.PDF+90% unc.","curve":"up","x":-0.392,"y":1.152},
{"panel":"HERA","series":"F.PDF+90% unc.","curve":"up","x":-0.33,"y":1.2},
{"panel":"HERA","series":"F.PDF+90% unc.","curve":"up","x":-0.28,"y":1.25},
{"panel":"HERA","series":"F.PDF+90% unc.","curve":"up","x":-0.235,"y":1.3},
{"panel":"HERA","series":"F.PDF+90% unc.","curve":"up","x":-0.21,"y":1.34},
{"panel":"HERA","series":"O.PDF+90% unc.","curve":"lo","x":-4.52,"y":0.982},
{"panel":"HERA","series":"O.PDF+90% unc.","curve":"lo","x":-4.3,"y":0.988},
{"panel":"HERA","series":"O.PDF+90% unc.","curve":"lo","x":-4.05,"y":0.993},
{"panel":"HERA","series":"O.PDF+90% unc.","curve":"lo","x":-3.5,"y":0.995},
{"panel":"HERA","series":"O.PDF+90% unc.","curve":"lo","x":-2.98,"y":0.996},
{"panel":"HERA","series":"O.PDF+90% unc.","curve":"lo","x":-2.6,"y":0.995},
{"panel":"HERA","series":"O.PDF+90% unc.","curve":"lo","x":-2.41,"y":0.993},
{"panel":"HERA","series":"O.PDF+90% unc.","curve":"lo","x":-2.2,"y":0.989},
{"panel":"HERA","series":"O.PDF+90% unc.","curve":"lo","x":-1.91,"y":0.983},
{"panel":"HERA","series":"O.PDF+90% unc.","curve":"lo","x":-1.56,"y":0.974},
{"panel":"HERA","series":"O.PDF+90% unc.","curve":"lo","x":-1.3,"y":0.972},
{"panel":"HERA","series":"O.PDF+90% unc.","curve":"lo","x":-1.06,"y":0.971},
{"panel":"HERA","series":"O.PDF+90% unc.","curve":"lo","x":-0.91,"y":0.958},
{"panel":"HERA","series":"O.PDF+90% unc.","curve":"lo","x":-0.8,"y":0.946},
{"panel":"HERA","series":"O.PDF+90% unc.","curve":"lo","x":-0.7,"y":0.932},
{"panel":"HERA","series":"O.PDF+90% unc.","curve":"lo","x":-0.6,"y":0.912},
{"panel":"HERA","series":"O.PDF+90% unc.","curve":"lo","x":-0.52,"y":0.893},
{"panel":"HERA","series":"O.PDF+90% unc.","curve":"lo","x":-0.45,"y":0.866},
{"panel":"HERA","series":"O.PDF+90% unc.","curve":"lo","x":-0.38,"y":0.834},
{"panel":"HERA","series":"O.PDF+90% unc.","curve":"lo","x":-0.32,"y":0.80},
{"panel":"HERA","series":"O.PDF+90% unc.","curve":"lo","x":-0.27,"y":0.763},
{"panel":"HERA","series":"O.PDF+90% unc.","curve":"lo","x":-0.2,"y":0.7},
{"panel":"HERA","series":"O.PDF+90% unc.","curve":"lo","x":-0.17,"y":0.66},
{"panel":"HERA","series":"F.PDF+90% unc.","curve":"lo","x":-4.52,"y":0.986},
{"panel":"HERA","series":"F.PDF+90% unc.","curve":"lo","x":-4.3,"y":0.989},
{"panel":"HERA","series":"F.PDF+90% unc.","curve":"lo","x":-4.05,"y":0.992},
{"panel":"HERA","series":"F.PDF+90% unc.","curve":"lo","x":-3.5,"y":0.994},
{"panel":"HERA","series":"F.PDF+90% unc.","curve":"lo","x":-2.98,"y":0.995},
{"panel":"HERA","series":"F.PDF+90% unc.","curve":"lo","x":-2.6,"y":0.993},
{"panel":"HERA","series":"F.PDF+90% unc.","curve":"lo","x":-2.41,"y":0.990},
{"panel":"HERA","series":"F.PDF+90% unc.","curve":"lo","x":-2.2,"y":0.985},
{"panel":"HERA","series":"F.PDF+90% unc.","curve":"lo","x":-1.91,"y":0.979},
{"panel":"HERA","series":"F.PDF+90% unc.","curve":"lo","x":-1.56,"y":0.971},
{"panel":"HERA","series":"F.PDF+90% unc.","curve":"lo","x":-1.3,"y":0.969},
{"panel":"HERA","series":"F.PDF+90% unc.","curve":"lo","x":-1.06,"y":0.968},
{"panel":"HERA","series":"F.PDF+90% unc.","curve":"lo","x":-0.91,"y":0.955},
{"panel":"HERA","series":"F.PDF+90% unc.","curve":"lo","x":-0.8,"y":0.943},
{"panel":"HERA","series":"F.PDF+90% unc.","curve":"lo","x":-0.7,"y":0.928},
{"panel":"HERA","series":"F.PDF+90% unc.","curve":"lo","x":-0.6,"y":0.908},
{"panel":"HERA","series":"F.PDF+90% unc.","curve":"lo","x":-0.52,"y":0.888},
{"panel":"HERA","series":"F.PDF+90% unc.","curve":"lo","x":-0.45,"y":0.860},
{"panel":"HERA","series":"F.PDF+90% unc.","curve":"lo","x":-0.38,"y":0.828},
{"panel":"HERA","series":"F.PDF+90% unc.","curve":"lo","x":-0.32,"y":0.795},
{"panel":"HERA","series":"F.PDF+90% unc.","curve":"lo","x":-0.27,"y":0.758},
{"panel":"HERA","series":"F.PDF+90% unc.","curve":"lo","x":-0.205,"y":0.7},
{"panel":"HERA","series":"F.PDF+90% unc.","curve":"lo","x":-0.18,"y":0.66},
{"panel":"HERA","series":"F.PDF+90% unc.","curve":"c","x":-4.52,"y":0.997},
{"panel":"HERA","series":"F.PDF+90% unc.","curve":"c","x":-4.0,"y":0.998},
{"panel":"HERA","series":"F.PDF+90% unc.","curve":"c","x":-3.0,"y":0.999},
{"panel":"HERA","series":"F.PDF+90% unc.","curve":"c","x":-2.0,"y":1.0},
{"panel":"HERA","series":"F.PDF+90% unc.","curve":"c","x":-1.0,"y":1.0},
{"panel":"HERA","series":"F.PDF+90% unc.","curve":"c","x":-0.75,"y":1.001},
{"panel":"HERA","series":"F.PDF+90% unc.","curve":"c","x":-0.616,"y":0.997},
{"panel":"HERA","series":"F.PDF+90% unc.","curve":"c","x":-0.448,"y":0.984},
{"panel":"HERA","series":"F.PDF+90% unc.","curve":"c","x":-0.33,"y":0.992},
{"panel":"HERA","series":"F.PDF+90% unc.","curve":"c","x":-0.196,"y":1.004},
{"panel":"HERA","series":"F.PDF+90% unc.","curve":"c","x":-0.15,"y":1.04},
{"panel":"HERA","series":"F.PDF+90% unc.","curve":"c","x":-0.112,"y":1.105},
{"panel":"HERA","series":"ABM11","curve":"abm","x":-4.52,"y":1.004},
{"panel":"HERA","series":"ABM11","curve":"abm","x":-4.0,"y":1.003},
{"panel":"HERA","series":"ABM11","curve":"abm","x":-3.0,"y":1.002},
{"panel":"HERA","series":"ABM11","curve":"abm","x":-2.0,"y":1.002},
{"panel":"HERA","series":"ABM11","curve":"abm","x":-1.0,"y":1.003},
{"panel":"HERA","series":"ABM11","curve":"abm","x":-0.75,"y":1.005},
{"panel":"HERA","series":"ABM11","curve":"abm","x":-0.616,"y":1.017},
{"panel":"HERA","series":"ABM11","curve":"abm","x":-0.476,"y":1.004},
{"panel":"HERA","series":"ABM11","curve":"abm","x":-0.336,"y":1.010},
{"panel":"HERA","series":"ABM11","curve":"abm","x":-0.196,"y":1.014},
{"panel":"HERA","series":"ABM11","curve":"abm","x":-0.112,"y":0.958}
]},
"concat": [
{
 "width": 527, "height": 306,
 "resolve": {"axis": {"x": "independent", "y": "independent"}},
 "layer": [
  {"data": {"name": "curves"}, "transform": [{"filter": "datum.panel === 'CT10' && datum.series === 'O.PDF+90% unc.'"}],
   "mark": {"type": "line", "clip": true},
   "encoding": {
    "x": {"field": "x", "type": "quantitative", "scale": {"domain": [-4.52, 0], "nice": false, "zero": false}, "axis": {"orient": "bottom", "values": [-4,-3,-2,-1,0], "format": "d", "title": "Log₁₀ x", "gridDash": [6, 2000], "labelFontSize": 24, "labelPadding": 21, "labelFlush": false, "labelOverlap": false, "titleFontSize": 30, "titlePadding": 17}},
    "y": {"field": "y", "type": "quantitative", "scale": {"domain": [0.7, 1.3], "nice": false, "zero": false}, "axis": {"orient": "left", "values": [0.7,0.8,0.9,1.0,1.1,1.2,1.3], "format": ".1f", "title": "Normalized g(x)", "gridDash": [6, 2000], "labelFontSize": 26, "labelPadding": 7, "labelFlush": false, "labelOverlap": false, "titleFontSize": 28, "titlePadding": 12}},
    "detail": {"field": "curve"},
    "stroke": {"field": "series", "type": "nominal", "scale": {"domain": ["O.PDF+90% unc.", "F.PDF+90% unc.", "ABM11"], "range": ["#dd3c3c", "#3a3ca8", "rgba(0,0,0,0)"]}, "legend": {"orient": "none", "legendX": 60, "legendY": 209, "title": null, "strokeColor": "#222", "fillColor": "white", "padding": 4, "clipHeight": 20, "symbolType": "stroke", "symbolSize": 1849, "symbolStrokeWidth": 2, "symbolOffset": 20, "labelFontSize": 20, "labelOffset": 10, "rowPadding": 5, "labelLimit": 300, "labelColor": "#222", "labelExpr": "datum.label === 'ABM11' ? '' : datum.label"}},
    "strokeDash": {"field": "series", "type": "nominal", "scale": {"domain": ["O.PDF+90% unc.", "F.PDF+90% unc.", "ABM11"], "range": [[1,0],[7,4],[2,3]]}, "legend": {"orient": "none", "legendX": 60, "legendY": 209, "title": null, "strokeColor": "#222", "fillColor": "white", "padding": 4, "clipHeight": 20, "symbolType": "stroke", "symbolSize": 1849, "symbolStrokeWidth": 2, "symbolOffset": 20, "labelFontSize": 20, "labelOffset": 10, "rowPadding": 5, "labelLimit": 300, "labelColor": "#222", "labelExpr": "datum.label === 'ABM11' ? '' : datum.label"}}
   }},
  {"data": {"name": "curves"}, "transform": [{"filter": "datum.panel === 'CT10' && datum.series !== 'O.PDF+90% unc.'"}],
   "mark": {"type": "line", "clip": true},
   "encoding": {
    "x": {"field": "x", "type": "quantitative", "scale": {"domain": [-4.52, 0], "nice": false, "zero": false}, "axis": {"orient": "bottom", "values": [-4.4,-4.2,-3.8,-3.6,-3.4,-3.2,-2.8,-2.6,-2.4,-2.2,-1.8,-1.6,-1.4,-1.2,-0.8,-0.6,-0.4,-0.2], "labels": false, "gridDash": [3.5, 2000], "title": null}},
    "y": {"field": "y", "type": "quantitative", "scale": {"domain": [0.7, 1.3], "nice": false, "zero": false}, "axis": {"orient": "left", "values": [0.72,0.74,0.76,0.78,0.82,0.84,0.86,0.88,0.92,0.94,0.96,0.98,1.02,1.04,1.06,1.08,1.12,1.14,1.16,1.18,1.22,1.24,1.26,1.28], "labels": false, "gridDash": [3.5, 2000], "title": null}},
    "detail": {"field": "curve"},
    "stroke": {"field": "series", "type": "nominal", "scale": {"domain": ["O.PDF+90% unc.", "F.PDF+90% unc.", "ABM11"], "range": ["#dd3c3c", "#3a3ca8", "rgba(0,0,0,0)"]}, "legend": {"orient": "none", "legendX": 60, "legendY": 209, "title": null, "strokeColor": "#222", "fillColor": "white", "padding": 4, "clipHeight": 20, "symbolType": "stroke", "symbolSize": 1849, "symbolStrokeWidth": 2, "symbolOffset": 20, "labelFontSize": 20, "labelOffset": 10, "rowPadding": 5, "labelLimit": 300, "labelColor": "#222", "labelExpr": "datum.label === 'ABM11' ? '' : datum.label"}},
    "strokeDash": {"field": "series", "type": "nominal", "scale": {"domain": ["O.PDF+90% unc.", "F.PDF+90% unc.", "ABM11"], "range": [[1,0],[7,4],[2,3]]}, "legend": {"orient": "none", "legendX": 60, "legendY": 209, "title": null, "strokeColor": "#222", "fillColor": "white", "padding": 4, "clipHeight": 20, "symbolType": "stroke", "symbolSize": 1849, "symbolStrokeWidth": 2, "symbolOffset": 20, "labelFontSize": 20, "labelOffset": 10, "rowPadding": 5, "labelLimit": 300, "labelColor": "#222", "labelExpr": "datum.label === 'ABM11' ? '' : datum.label"}}
   }},
  {"data": {"values": [{"label": "CT10"}]},
   "mark": {"type": "text", "align": "center", "baseline": "middle"},
   "encoding": {
    "text": {"field": "label"},
    "x": {"datum": -2.5, "type": "quantitative", "scale": {"domain": [-4.52, 0], "nice": false, "zero": false}, "axis": {"orient": "top", "values": [-4,-3,-2,-1], "labels": false, "gridDash": [6, 2000], "title": null}},
    "y": {"datum": 1.235, "type": "quantitative", "scale": {"domain": [0.7, 1.3], "nice": false, "zero": false}, "axis": {"orient": "right", "values": [0.8,0.9,1.0,1.1,1.2], "labels": false, "gridDash": [6, 2000], "title": null}}
   }},
  {"data": {"values": [{"label": "Q=85. GeV"}]},
   "mark": {"type": "text", "align": "center", "baseline": "middle"},
   "encoding": {
    "text": {"field": "label"},
    "x": {"datum": -2.5, "type": "quantitative", "scale": {"domain": [-4.52, 0], "nice": false, "zero": false}, "axis": {"orient": "top", "values": [-4.4,-4.2,-3.8,-3.6,-3.4,-3.2,-2.8,-2.6,-2.4,-2.2,-1.8,-1.6,-1.4,-1.2,-0.8,-0.6,-0.4,-0.2], "labels": false, "gridDash": [3.5, 2000], "title": null}},
    "y": {"datum": 1.156, "type": "quantitative", "scale": {"domain": [0.7, 1.3], "nice": false, "zero": false}, "axis": {"orient": "right", "values": [0.72,0.74,0.76,0.78,0.82,0.84,0.86,0.88,0.92,0.94,0.96,0.98,1.02,1.04,1.06,1.08,1.12,1.14,1.16,1.18,1.22,1.24,1.26,1.28], "labels": false, "gridDash": [3.5, 2000], "title": null}}
   }}
 ]
},
{
 "width": 534, "height": 306,
 "resolve": {"axis": {"x": "independent", "y": "independent"}},
 "layer": [
  {"data": {"name": "curves"}, "transform": [{"filter": "datum.panel === 'MSTW' && datum.series === 'O.PDF+90% unc.'"}],
   "mark": {"type": "line", "clip": true},
   "encoding": {
    "x": {"field": "x", "type": "quantitative", "scale": {"domain": [-4.52, 0], "nice": false, "zero": false}, "axis": {"orient": "bottom", "values": [-4,-3,-2,-1,0], "format": "d", "title": "Log₁₀ x", "gridDash": [6, 2000], "labelFontSize": 24, "labelPadding": 21, "labelFlush": false, "labelOverlap": false, "titleFontSize": 30, "titlePadding": 17}},
    "y": {"field": "y", "type": "quantitative", "scale": {"domain": [0.7, 1.3], "nice": false, "zero": false}, "axis": {"orient": "left", "values": [0.7,0.8,0.9,1.0,1.1,1.2,1.3], "format": ".1f", "title": "Normalized g(x)", "gridDash": [6, 2000], "labelFontSize": 26, "labelPadding": 7, "labelFlush": false, "labelOverlap": false, "titleFontSize": 28, "titlePadding": 12}},
    "detail": {"field": "curve"},
    "stroke": {"field": "series", "type": "nominal", "scale": {"domain": ["O.PDF+90% unc.", "F.PDF+90% unc.", "ABM11"], "range": ["#dd3c3c", "#3a3ca8", "rgba(0,0,0,0)"]}, "legend": {"orient": "none", "legendX": 62, "legendY": 209, "title": null, "strokeColor": "#222", "fillColor": "white", "padding": 4, "clipHeight": 20, "symbolType": "stroke", "symbolSize": 1849, "symbolStrokeWidth": 2, "symbolOffset": 20, "labelFontSize": 20, "labelOffset": 10, "rowPadding": 5, "labelLimit": 300, "labelColor": "#222", "labelExpr": "datum.label === 'ABM11' ? '' : datum.label"}},
    "strokeDash": {"field": "series", "type": "nominal", "scale": {"domain": ["O.PDF+90% unc.", "F.PDF+90% unc.", "ABM11"], "range": [[1,0],[7,4],[2,3]]}, "legend": {"orient": "none", "legendX": 62, "legendY": 209, "title": null, "strokeColor": "#222", "fillColor": "white", "padding": 4, "clipHeight": 20, "symbolType": "stroke", "symbolSize": 1849, "symbolStrokeWidth": 2, "symbolOffset": 20, "labelFontSize": 20, "labelOffset": 10, "rowPadding": 5, "labelLimit": 300, "labelColor": "#222", "labelExpr": "datum.label === 'ABM11' ? '' : datum.label"}}
   }},
  {"data": {"name": "curves"}, "transform": [{"filter": "datum.panel === 'MSTW' && datum.series !== 'O.PDF+90% unc.'"}],
   "mark": {"type": "line", "clip": true},
   "encoding": {
    "x": {"field": "x", "type": "quantitative", "scale": {"domain": [-4.52, 0], "nice": false, "zero": false}, "axis": {"orient": "bottom", "values": [-4.4,-4.2,-3.8,-3.6,-3.4,-3.2,-2.8,-2.6,-2.4,-2.2,-1.8,-1.6,-1.4,-1.2,-0.8,-0.6,-0.4,-0.2], "labels": false, "gridDash": [3.5, 2000], "title": null}},
    "y": {"field": "y", "type": "quantitative", "scale": {"domain": [0.7, 1.3], "nice": false, "zero": false}, "axis": {"orient": "left", "values": [0.72,0.74,0.76,0.78,0.82,0.84,0.86,0.88,0.92,0.94,0.96,0.98,1.02,1.04,1.06,1.08,1.12,1.14,1.16,1.18,1.22,1.24,1.26,1.28], "labels": false, "gridDash": [3.5, 2000], "title": null}},
    "detail": {"field": "curve"},
    "stroke": {"field": "series", "type": "nominal", "scale": {"domain": ["O.PDF+90% unc.", "F.PDF+90% unc.", "ABM11"], "range": ["#dd3c3c", "#3a3ca8", "rgba(0,0,0,0)"]}, "legend": {"orient": "none", "legendX": 62, "legendY": 209, "title": null, "strokeColor": "#222", "fillColor": "white", "padding": 4, "clipHeight": 20, "symbolType": "stroke", "symbolSize": 1849, "symbolStrokeWidth": 2, "symbolOffset": 20, "labelFontSize": 20, "labelOffset": 10, "rowPadding": 5, "labelLimit": 300, "labelColor": "#222", "labelExpr": "datum.label === 'ABM11' ? '' : datum.label"}},
    "strokeDash": {"field": "series", "type": "nominal", "scale": {"domain": ["O.PDF+90% unc.", "F.PDF+90% unc.", "ABM11"], "range": [[1,0],[7,4],[2,3]]}, "legend": {"orient": "none", "legendX": 62, "legendY": 209, "title": null, "strokeColor": "#222", "fillColor": "white", "padding": 4, "clipHeight": 20, "symbolType": "stroke", "symbolSize": 1849, "symbolStrokeWidth": 2, "symbolOffset": 20, "labelFontSize": 20, "labelOffset": 10, "rowPadding": 5, "labelLimit": 300, "labelColor": "#222", "labelExpr": "datum.label === 'ABM11' ? '' : datum.label"}}
   }},
  {"data": {"values": [{"label": "MSTW 2008"}]},
   "mark": {"type": "text", "align": "center", "baseline": "middle"},
   "encoding": {
    "text": {"field": "label"},
    "x": {"datum": -2.5, "type": "quantitative", "scale": {"domain": [-4.52, 0], "nice": false, "zero": false}, "axis": {"orient": "top", "values": [-4,-3,-2,-1], "labels": false, "gridDash": [6, 2000], "title": null}},
    "y": {"datum": 1.235, "type": "quantitative", "scale": {"domain": [0.7, 1.3], "nice": false, "zero": false}, "axis": {"orient": "right", "values": [0.8,0.9,1.0,1.1,1.2], "labels": false, "gridDash": [6, 2000], "title": null}}
   }},
  {"data": {"values": [{"label": "Q=85. GeV"}]},
   "mark": {"type": "text", "align": "center", "baseline": "middle"},
   "encoding": {
    "text": {"field": "label"},
    "x": {"datum": -2.5, "type": "quantitative", "scale": {"domain": [-4.52, 0], "nice": false, "zero": false}, "axis": {"orient": "top", "values": [-4.4,-4.2,-3.8,-3.6,-3.4,-3.2,-2.8,-2.6,-2.4,-2.2,-1.8,-1.6,-1.4,-1.2,-0.8,-0.6,-0.4,-0.2], "labels": false, "gridDash": [3.5, 2000], "title": null}},
    "y": {"datum": 1.156, "type": "quantitative", "scale": {"domain": [0.7, 1.3], "nice": false, "zero": false}, "axis": {"orient": "right", "values": [0.72,0.74,0.76,0.78,0.82,0.84,0.86,0.88,0.92,0.94,0.96,0.98,1.02,1.04,1.06,1.08,1.12,1.14,1.16,1.18,1.22,1.24,1.26,1.28], "labels": false, "gridDash": [3.5, 2000], "title": null}}
   }}
 ]
},
{
 "width": 527, "height": 307,
 "resolve": {"axis": {"x": "independent", "y": "independent"}},
 "layer": [
  {"data": {"name": "curves"}, "transform": [{"filter": "datum.panel === 'NNPDF' && datum.series === 'O.PDF+90% unc.'"}],
   "mark": {"type": "line", "clip": true},
   "encoding": {
    "x": {"field": "x", "type": "quantitative", "scale": {"domain": [-4.52, 0], "nice": false, "zero": false}, "axis": {"orient": "bottom", "values": [-4,-3,-2,-1,0], "format": "d", "title": "Log₁₀ x", "gridDash": [6, 2000], "labelFontSize": 24, "labelPadding": 21, "labelFlush": false, "labelOverlap": false, "titleFontSize": 30, "titlePadding": 17}},
    "y": {"field": "y", "type": "quantitative", "scale": {"domain": [0.7, 1.3], "nice": false, "zero": false}, "axis": {"orient": "left", "values": [0.7,0.8,0.9,1.0,1.1,1.2,1.3], "format": ".1f", "title": "Normalized g(x)", "gridDash": [6, 2000], "labelFontSize": 26, "labelPadding": 7, "labelFlush": false, "labelOverlap": false, "titleFontSize": 28, "titlePadding": 12}},
    "detail": {"field": "curve"},
    "stroke": {"field": "series", "type": "nominal", "scale": {"domain": ["O.PDF+90% unc.", "F.PDF+90% unc.", "ABM11"], "range": ["#dd3c3c", "#3a3ca8", "rgba(0,0,0,0)"]}, "legend": {"orient": "none", "legendX": 60, "legendY": 209, "title": null, "strokeColor": "#222", "fillColor": "white", "padding": 4, "clipHeight": 20, "symbolType": "stroke", "symbolSize": 1849, "symbolStrokeWidth": 2, "symbolOffset": 20, "labelFontSize": 20, "labelOffset": 10, "rowPadding": 5, "labelLimit": 300, "labelColor": "#222", "labelExpr": "datum.label === 'ABM11' ? '' : datum.label"}},
    "strokeDash": {"field": "series", "type": "nominal", "scale": {"domain": ["O.PDF+90% unc.", "F.PDF+90% unc.", "ABM11"], "range": [[1,0],[7,4],[2,3]]}, "legend": {"orient": "none", "legendX": 60, "legendY": 209, "title": null, "strokeColor": "#222", "fillColor": "white", "padding": 4, "clipHeight": 20, "symbolType": "stroke", "symbolSize": 1849, "symbolStrokeWidth": 2, "symbolOffset": 20, "labelFontSize": 20, "labelOffset": 10, "rowPadding": 5, "labelLimit": 300, "labelColor": "#222", "labelExpr": "datum.label === 'ABM11' ? '' : datum.label"}}
   }},
  {"data": {"name": "curves"}, "transform": [{"filter": "datum.panel === 'NNPDF' && datum.series !== 'O.PDF+90% unc.'"}],
   "mark": {"type": "line", "clip": true},
   "encoding": {
    "x": {"field": "x", "type": "quantitative", "scale": {"domain": [-4.52, 0], "nice": false, "zero": false}, "axis": {"orient": "bottom", "values": [-4.4,-4.2,-3.8,-3.6,-3.4,-3.2,-2.8,-2.6,-2.4,-2.2,-1.8,-1.6,-1.4,-1.2,-0.8,-0.6,-0.4,-0.2], "labels": false, "gridDash": [3.5, 2000], "title": null}},
    "y": {"field": "y", "type": "quantitative", "scale": {"domain": [0.7, 1.3], "nice": false, "zero": false}, "axis": {"orient": "left", "values": [0.72,0.74,0.76,0.78,0.82,0.84,0.86,0.88,0.92,0.94,0.96,0.98,1.02,1.04,1.06,1.08,1.12,1.14,1.16,1.18,1.22,1.24,1.26,1.28], "labels": false, "gridDash": [3.5, 2000], "title": null}},
    "detail": {"field": "curve"},
    "stroke": {"field": "series", "type": "nominal", "scale": {"domain": ["O.PDF+90% unc.", "F.PDF+90% unc.", "ABM11"], "range": ["#dd3c3c", "#3a3ca8", "rgba(0,0,0,0)"]}, "legend": {"orient": "none", "legendX": 60, "legendY": 209, "title": null, "strokeColor": "#222", "fillColor": "white", "padding": 4, "clipHeight": 20, "symbolType": "stroke", "symbolSize": 1849, "symbolStrokeWidth": 2, "symbolOffset": 20, "labelFontSize": 20, "labelOffset": 10, "rowPadding": 5, "labelLimit": 300, "labelColor": "#222", "labelExpr": "datum.label === 'ABM11' ? '' : datum.label"}},
    "strokeDash": {"field": "series", "type": "nominal", "scale": {"domain": ["O.PDF+90% unc.", "F.PDF+90% unc.", "ABM11"], "range": [[1,0],[7,4],[2,3]]}, "legend": {"orient": "none", "legendX": 60, "legendY": 209, "title": null, "strokeColor": "#222", "fillColor": "white", "padding": 4, "clipHeight": 20, "symbolType": "stroke", "symbolSize": 1849, "symbolStrokeWidth": 2, "symbolOffset": 20, "labelFontSize": 20, "labelOffset": 10, "rowPadding": 5, "labelLimit": 300, "labelColor": "#222", "labelExpr": "datum.label === 'ABM11' ? '' : datum.label"}}
   }},
  {"data": {"values": [{"label": "NNPDF2.3"}]},
   "mark": {"type": "text", "align": "center", "baseline": "middle"},
   "encoding": {
    "text": {"field": "label"},
    "x": {"datum": -2.5, "type": "quantitative", "scale": {"domain": [-4.52, 0], "nice": false, "zero": false}, "axis": {"orient": "top", "values": [-4,-3,-2,-1], "labels": false, "gridDash": [6, 2000], "title": null}},
    "y": {"datum": 1.233, "type": "quantitative", "scale": {"domain": [0.7, 1.3], "nice": false, "zero": false}, "axis": {"orient": "right", "values": [0.8,0.9,1.0,1.1,1.2], "labels": false, "gridDash": [6, 2000], "title": null}}
   }},
  {"data": {"values": [{"label": "Q=85. GeV"}]},
   "mark": {"type": "text", "align": "center", "baseline": "middle"},
   "encoding": {
    "text": {"field": "label"},
    "x": {"datum": -2.5, "type": "quantitative", "scale": {"domain": [-4.52, 0], "nice": false, "zero": false}, "axis": {"orient": "top", "values": [-4.4,-4.2,-3.8,-3.6,-3.4,-3.2,-2.8,-2.6,-2.4,-2.2,-1.8,-1.6,-1.4,-1.2,-0.8,-0.6,-0.4,-0.2], "labels": false, "gridDash": [3.5, 2000], "title": null}},
    "y": {"datum": 1.155, "type": "quantitative", "scale": {"domain": [0.7, 1.3], "nice": false, "zero": false}, "axis": {"orient": "right", "values": [0.72,0.74,0.76,0.78,0.82,0.84,0.86,0.88,0.92,0.94,0.96,0.98,1.02,1.04,1.06,1.08,1.12,1.14,1.16,1.18,1.22,1.24,1.26,1.28], "labels": false, "gridDash": [3.5, 2000], "title": null}}
   }}
 ]
},
{
 "width": 534, "height": 307,
 "resolve": {"axis": {"x": "independent", "y": "independent"}},
 "layer": [
  {"data": {"name": "curves"}, "transform": [{"filter": "datum.panel === 'HERA' && datum.series === 'O.PDF+90% unc.'"}],
   "mark": {"type": "line", "clip": true},
   "encoding": {
    "x": {"field": "x", "type": "quantitative", "scale": {"domain": [-4.52, 0], "nice": false, "zero": false}, "axis": {"orient": "bottom", "values": [-4,-3,-2,-1,0], "format": "d", "title": "Log₁₀ x", "gridDash": [6, 2000], "labelFontSize": 24, "labelPadding": 21, "labelFlush": false, "labelOverlap": false, "titleFontSize": 30, "titlePadding": 17}},
    "y": {"field": "y", "type": "quantitative", "scale": {"domain": [0.7, 1.3], "nice": false, "zero": false}, "axis": {"orient": "left", "values": [0.7,0.8,0.9,1.0,1.1,1.2,1.3], "format": ".1f", "title": "Normalized g(x)", "gridDash": [6, 2000], "labelFontSize": 26, "labelPadding": 7, "labelFlush": false, "labelOverlap": false, "titleFontSize": 28, "titlePadding": 12}},
    "detail": {"field": "curve"},
    "stroke": {"field": "series", "type": "nominal", "scale": {"domain": ["O.PDF+90% unc.", "F.PDF+90% unc.", "ABM11"], "range": ["#dd3c3c", "#3a3ca8", "#222222"]}, "legend": {"orient": "none", "legendX": 62, "legendY": 209, "title": null, "strokeColor": "#222", "fillColor": "white", "padding": 4, "clipHeight": 20, "symbolType": "stroke", "symbolSize": 1849, "symbolStrokeWidth": 2, "symbolOffset": 20, "labelFontSize": 20, "labelOffset": 10, "rowPadding": 5, "labelLimit": 300, "labelColor": "#222"}},
    "strokeDash": {"field": "series", "type": "nominal", "scale": {"domain": ["O.PDF+90% unc.", "F.PDF+90% unc.", "ABM11"], "range": [[1,0],[7,4],[2,3]]}, "legend": {"orient": "none", "legendX": 62, "legendY": 209, "title": null, "strokeColor": "#222", "fillColor": "white", "padding": 4, "clipHeight": 20, "symbolType": "stroke", "symbolSize": 1849, "symbolStrokeWidth": 2, "symbolOffset": 20, "labelFontSize": 20, "labelOffset": 10, "rowPadding": 5, "labelLimit": 300, "labelColor": "#222"}}
   }},
  {"data": {"name": "curves"}, "transform": [{"filter": "datum.panel === 'HERA' && datum.series !== 'O.PDF+90% unc.'"}],
   "mark": {"type": "line", "clip": true},
   "encoding": {
    "x": {"field": "x", "type": "quantitative", "scale": {"domain": [-4.52, 0], "nice": false, "zero": false}, "axis": {"orient": "bottom", "values": [-4.4,-4.2,-3.8,-3.6,-3.4,-3.2,-2.8,-2.6,-2.4,-2.2,-1.8,-1.6,-1.4,-1.2,-0.8,-0.6,-0.4,-0.2], "labels": false, "gridDash": [3.5, 2000], "title": null}},
    "y": {"field": "y", "type": "quantitative", "scale": {"domain": [0.7, 1.3], "nice": false, "zero": false}, "axis": {"orient": "left", "values": [0.72,0.74,0.76,0.78,0.82,0.84,0.86,0.88,0.92,0.94,0.96,0.98,1.02,1.04,1.06,1.08,1.12,1.14,1.16,1.18,1.22,1.24,1.26,1.28], "labels": false, "gridDash": [3.5, 2000], "title": null}},
    "detail": {"field": "curve"},
    "stroke": {"field": "series", "type": "nominal", "scale": {"domain": ["O.PDF+90% unc.", "F.PDF+90% unc.", "ABM11"], "range": ["#dd3c3c", "#3a3ca8", "#222222"]}, "legend": {"orient": "none", "legendX": 62, "legendY": 209, "title": null, "strokeColor": "#222", "fillColor": "white", "padding": 4, "clipHeight": 20, "symbolType": "stroke", "symbolSize": 1849, "symbolStrokeWidth": 2, "symbolOffset": 20, "labelFontSize": 20, "labelOffset": 10, "rowPadding": 5, "labelLimit": 300, "labelColor": "#222"}},
    "strokeDash": {"field": "series", "type": "nominal", "scale": {"domain": ["O.PDF+90% unc.", "F.PDF+90% unc.", "ABM11"], "range": [[1,0],[7,4],[2,3]]}, "legend": {"orient": "none", "legendX": 62, "legendY": 209, "title": null, "strokeColor": "#222", "fillColor": "white", "padding": 4, "clipHeight": 20, "symbolType": "stroke", "symbolSize": 1849, "symbolStrokeWidth": 2, "symbolOffset": 20, "labelFontSize": 20, "labelOffset": 10, "rowPadding": 5, "labelLimit": 300, "labelColor": "#222"}}
   }},
  {"data": {"values": [{"label": "HERAPDF1.5&ABM11"}]},
   "mark": {"type": "text", "align": "center", "baseline": "middle"},
   "encoding": {
    "text": {"field": "label"},
    "x": {"datum": -2.52, "type": "quantitative", "scale": {"domain": [-4.52, 0], "nice": false, "zero": false}, "axis": {"orient": "top", "values": [-4,-3,-2,-1], "labels": false, "gridDash": [6, 2000], "title": null}},
    "y": {"datum": 1.233, "type": "quantitative", "scale": {"domain": [0.7, 1.3], "nice": false, "zero": false}, "axis": {"orient": "right", "values": [0.8,0.9,1.0,1.1,1.2], "labels": false, "gridDash": [6, 2000], "title": null}}
   }},
  {"data": {"values": [{"label": "Q=85. GeV"}]},
   "mark": {"type": "text", "align": "center", "baseline": "middle"},
   "encoding": {
    "text": {"field": "label"},
    "x": {"datum": -2.5, "type": "quantitative", "scale": {"domain": [-4.52, 0], "nice": false, "zero": false}, "axis": {"orient": "top", "values": [-4.4,-4.2,-3.8,-3.6,-3.4,-3.2,-2.8,-2.6,-2.4,-2.2,-1.8,-1.6,-1.4,-1.2,-0.8,-0.6,-0.4,-0.2], "labels": false, "gridDash": [3.5, 2000], "title": null}},
    "y": {"datum": 1.155, "type": "quantitative", "scale": {"domain": [0.7, 1.3], "nice": false, "zero": false}, "axis": {"orient": "right", "values": [0.72,0.74,0.76,0.78,0.82,0.84,0.86,0.88,0.92,0.94,0.96,0.98,1.02,1.04,1.06,1.08,1.12,1.14,1.16,1.18,1.22,1.24,1.26,1.28], "labels": false, "gridDash": [3.5, 2000], "title": null}}
   }}
 ]
}
]
}
